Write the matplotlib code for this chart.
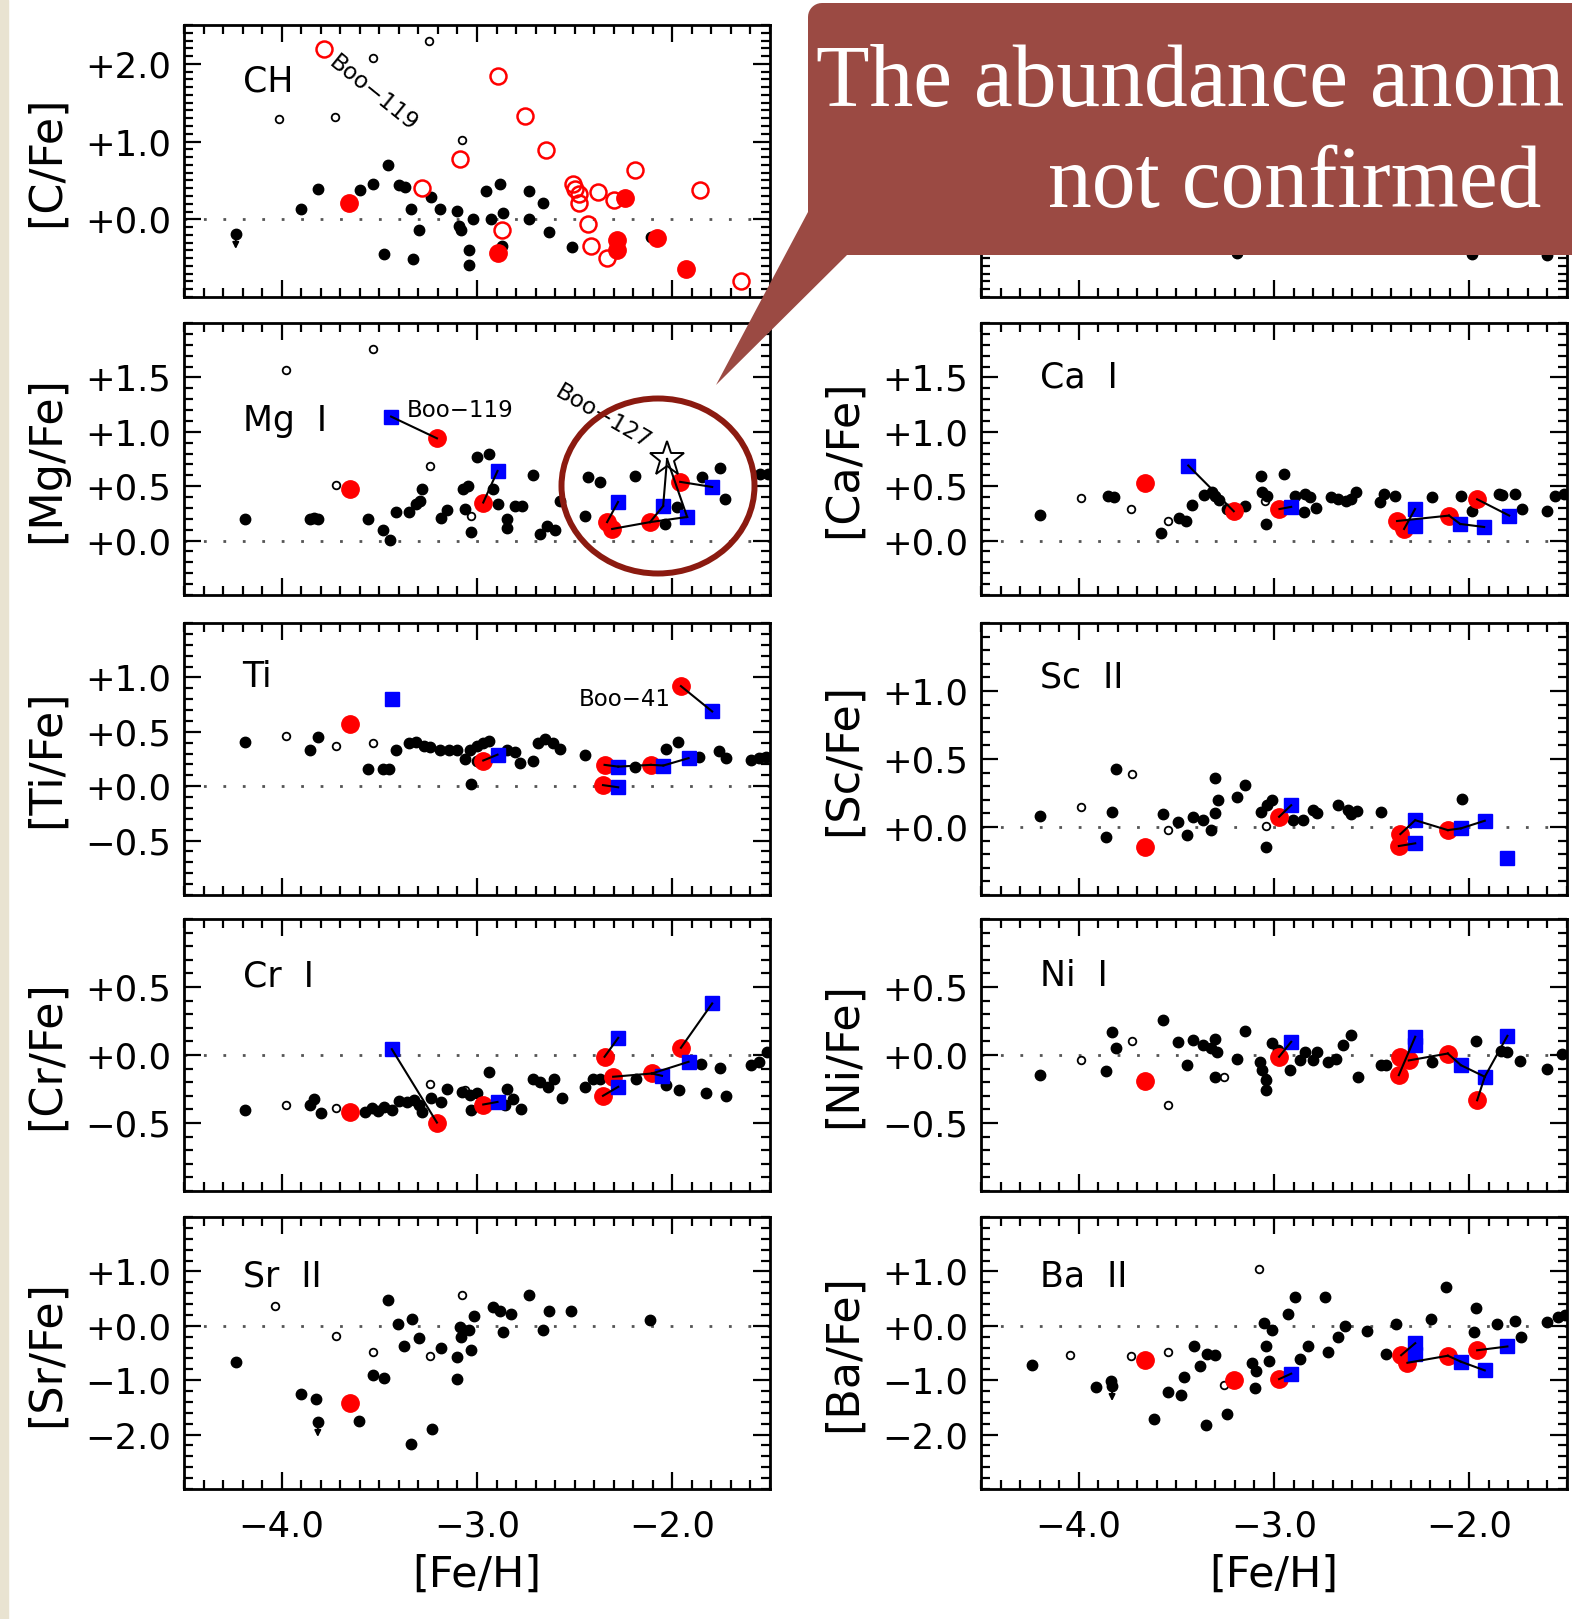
import numpy as np
import matplotlib
matplotlib.use("Agg")
import matplotlib.pyplot as plt
from matplotlib.patches import Ellipse, Polygon, Rectangle
from matplotlib.ticker import FixedLocator, MultipleLocator, FuncFormatter

# [X/Fe] vs [Fe/H]; halo comparison stars (black), Bootes I stars (red / blue)

# ---- CH ----
CH_HALO = [(-3.90, 0.13), (-3.815, 0.39), (-3.60, 0.38), (-3.53, 0.46), (-3.455, 0.70),
           (-3.40, 0.44), (-3.37, 0.41), (-3.34, 0.13), (-3.295, -0.14), (-3.235, 0.29),
           (-3.19, 0.13), (-3.10, 0.11), (-3.09, -0.08), (-3.08, -0.14), (-3.02, 0.0),
           (-2.955, 0.36), (-2.93, 0.0), (-2.88, 0.45), (-2.865, 0.08), (-2.87, -0.34),
           (-2.735, 0.37), (-2.735, 0.0), (-2.66, 0.21), (-2.63, -0.16), (-3.475, -0.45),
           (-3.33, -0.51), (-3.04, -0.39), (-3.04, -0.59), (-2.515, -0.36), (-2.11, -0.23)]
CH_LIMITS = [(-4.235, -0.19)]
CH_OPEN = [(-4.016, 1.29), (-3.725, 1.32), (-3.534, 2.07), (-3.246, 2.30), (-3.076, 1.02)]
CH_RED = [(-3.655, 0.21), (-2.895, -0.44), (-2.244, 0.28), (-2.285, -0.27), (-2.285, -0.40),
          (-2.08, -0.24), (-1.93, -0.64)]
CH_RED_OPEN = [(-3.784, 2.19), (-2.895, 1.85), (-2.754, 1.33), (-2.646, 0.89), (-3.089, 0.78),
               (-3.282, 0.40), (-2.87, -0.14), (-2.51, 0.45), (-2.497, 0.39), (-2.476, 0.33),
               (-2.476, 0.21), (-2.432, -0.06), (-2.38, 0.35), (-2.30, 0.25), (-2.414, -0.35),
               (-2.337, -0.50), (-2.19, 0.63), (-1.858, 0.38), (-1.646, -0.79)]

# ---- Mg I ----
MG_HALO = [(-4.19, 0.20), (-3.856, 0.20), (-3.835, 0.21), (-3.815, 0.20), (-3.56, 0.20),
           (-3.483, 0.10), (-3.444, 0.01), (-3.416, 0.26), (-3.35, 0.26), (-3.31, 0.34),
           (-3.29, 0.36), (-3.28, 0.47), (-3.186, 0.21), (-3.153, 0.28), (-3.07, 0.47),
           (-3.045, 0.50), (-3.063, 0.29), (-3.03, 0.08), (-2.998, 0.77), (-2.94, 0.80),
           (-2.92, 0.47), (-2.895, 0.34), (-2.844, 0.20), (-2.844, 0.12), (-2.805, 0.32),
           (-2.77, 0.32), (-2.715, 0.60), (-2.677, 0.06), (-2.643, 0.13), (-2.60, 0.10),
           (-2.575, 0.36), (-2.43, 0.58), (-2.37, 0.54), (-2.19, 0.59), (-2.447, 0.23),
           (-2.037, 0.15), (-1.975, 0.31), (-1.848, 0.58), (-1.756, 0.67), (-1.73, 0.38),
           (-1.55, 0.61), (-1.51, 0.61)]
MG_OPEN = [(-3.98, 1.57), (-3.534, 1.76), (-3.72, 0.51), (-3.243, 0.69), (-3.03, 0.23)]
MG_RED = [(-3.65, 0.47), (-3.205, 0.94), (-2.968, 0.35), (-2.334, 0.17), (-2.308, 0.107),
          (-2.114, 0.17), (-1.96, 0.54)]
MG_BLUE = [(-3.44, 1.14), (-2.895, 0.64), (-2.278, 0.355), (-2.047, 0.318), (-1.924, 0.217),
           (-1.796, 0.493)]
MG_STAR = (-2.027, 0.75)
MG_LINKS = [('b0', 'r1'), ('b1', 'r2'), ('r3', 'b2'), ('r4', 'r5'), ('r5', 'b3'),
            ('b3', 's'), ('s', 'b4'), ('r5', 'b4'), ('r6', 'b5')]

# ---- Ca I ----
CA_HALO = [(-4.198, 0.236), (-3.848, 0.41), (-3.819, 0.40), (-3.576, 0.07), (-3.486, 0.21),
           (-3.449, 0.18), (-3.42, 0.33), (-3.357, 0.42), (-3.318, 0.45), (-3.30, 0.41),
           (-3.28, 0.37), (-3.241, 0.29), (-3.15, 0.32), (-3.068, 0.595), (-2.949, 0.61),
           (-3.06, 0.45), (-3.034, 0.41), (-3.041, 0.157), (-2.892, 0.41), (-2.84, 0.43),
           (-2.814, 0.40), (-2.846, 0.26), (-2.784, 0.30), (-2.71, 0.40), (-2.671, 0.38),
           (-2.632, 0.365), (-2.607, 0.38), (-2.581, 0.45), (-2.437, 0.43), (-2.457, 0.355),
           (-2.38, 0.41), (-2.19, 0.40), (-2.042, 0.41), (-1.986, 0.27), (-1.848, 0.43),
           (-1.832, 0.42), (-1.766, 0.43), (-1.73, 0.29), (-1.602, 0.27), (-1.561, 0.41),
           (-1.515, 0.43)]
CA_OPEN = [(-3.99, 0.39), (-3.731, 0.295), (-3.543, 0.18), (-3.046, 0.36)]
CA_RED = [(-3.659, 0.53), (-3.206, 0.27), (-2.972, 0.29), (-2.37, 0.18), (-2.334, 0.107),
          (-2.104, 0.23), (-1.96, 0.38)]
CA_BLUE = [(-3.439, 0.69), (-2.912, 0.31), (-2.278, 0.29), (-2.278, 0.13), (-2.047, 0.153),
           (-1.924, 0.125), (-1.796, 0.23)]
CA_LINKS = [('b0', 'r1'), ('r2', 'b1'), ('r4', 'b2'), ('r3', 'r5'), ('r5', 'b4'),
            ('b4', 'b5'), ('r6', 'b6')]

# ---- Ti ----
TI_HALO = [(-4.19, 0.405), (-3.856, 0.335), (-3.815, 0.45), (-3.56, 0.16), (-3.483, 0.16),
           (-3.45, 0.16), (-3.416, 0.33), (-3.35, 0.40), (-3.31, 0.41), (-3.27, 0.37),
           (-3.24, 0.36), (-3.19, 0.335), (-3.145, 0.335), (-3.10, 0.335), (-3.037, 0.335),
           (-2.998, 0.365), (-2.97, 0.40), (-2.94, 0.42), (-3.063, 0.25), (-3.0, 0.23),
           (-3.03, 0.02), (-2.844, 0.335), (-2.805, 0.31), (-2.78, 0.21), (-2.715, 0.235),
           (-2.69, 0.40), (-2.65, 0.43), (-2.61, 0.40), (-2.574, 0.34), (-2.445, 0.29),
           (-2.19, 0.18), (-2.03, 0.34), (-1.97, 0.41), (-1.865, 0.27), (-1.76, 0.32),
           (-1.724, 0.26), (-1.595, 0.24), (-1.556, 0.26), (-1.518, 0.27)]
TI_OPEN = [(-3.98, 0.457), (-3.72, 0.365), (-3.534, 0.40)]
TI_RED = [(-3.65, 0.57), (-2.968, 0.236), (-2.347, 0.196), (-2.355, 0.01), (-2.11, 0.196),
          (-1.956, 0.92)]
TI_BLUE = [(-3.436, 0.80), (-2.895, 0.29), (-2.277, 0.18), (-2.277, -0.01), (-2.046, 0.19),
           (-1.917, 0.258), (-1.796, 0.687)]
TI_LINKS = [('r1', 'b1'), ('r2', 'b2'), ('r3', 'b3'), ('b2', 'r4'), ('r4', 'b4'),
            ('b4', 'b5'), ('r5', 'b6')]

# ---- Sc II ----
SC_HALO = [(-4.198, 0.083), (-3.862, -0.076), (-3.829, 0.112), (-3.809, 0.43), (-3.569, 0.095),
           (-3.492, 0.04), (-3.447, -0.06), (-3.414, 0.07), (-3.362, 0.05), (-3.323, -0.02),
           (-3.30, 0.105), (-3.288, 0.198), (-3.30, 0.36), (-3.189, 0.22), (-3.15, 0.308),
           (-3.068, 0.112), (-3.034, 0.16), (-3.008, 0.198), (-3.04, -0.145), (-2.904, 0.05),
           (-2.853, 0.05), (-2.801, 0.124), (-2.781, 0.105), (-2.671, 0.16), (-2.62, 0.124),
           (-2.576, 0.12), (-2.607, 0.095), (-2.452, 0.112), (-2.038, 0.203)]
SC_OPEN = [(-3.99, 0.149), (-3.727, 0.393), (-3.543, -0.02), (-3.04, 0.01)]
SC_RED = [(-3.659, -0.15), (-2.974, 0.075), (-2.353, -0.052), (-2.361, -0.14), (-2.11, -0.023)]
SC_BLUE = [(-2.912, 0.16), (-2.277, 0.05), (-2.277, -0.12), (-2.043, -0.01), (-1.921, 0.046),
           (-1.805, -0.23)]
SC_LINKS = [('r1', 'b0'), ('r2', 'b1'), ('r3', 'b2'), ('b1', 'r4'), ('r4', 'b3'), ('b3', 'b4')]

# ---- Cr I ----
CR_HALO = [(-4.19, -0.406), (-3.856, -0.37), (-3.836, -0.32), (-3.80, -0.43), (-3.573, -0.418),
           (-3.54, -0.39), (-3.506, -0.41), (-3.475, -0.38), (-3.436, -0.406), (-3.398, -0.34),
           (-3.36, -0.345), (-3.32, -0.333), (-3.295, -0.37), (-3.282, -0.42), (-3.238, -0.317),
           (-3.184, -0.345), (-3.153, -0.247), (-3.076, -0.27), (-3.037, -0.296), (-2.998, -0.283),
           (-3.032, -0.406), (-2.94, -0.124), (-2.844, -0.247), (-2.818, -0.32), (-2.774, -0.40),
           (-2.857, -0.37), (-2.715, -0.173), (-2.677, -0.20), (-2.638, -0.234), (-2.605, -0.173),
           (-2.566, -0.315), (-2.445, -0.234), (-2.407, -0.178), (-2.368, -0.173), (-2.187, -0.178),
           (-2.033, -0.22), (-1.968, -0.26), (-1.853, -0.063), (-1.755, -0.095), (-1.827, -0.283),
           (-1.724, -0.30), (-1.595, -0.075), (-1.556, -0.05), (-1.513, 0.023)]
CR_OPEN = [(-3.98, -0.364), (-3.72, -0.39), (-3.243, -0.21), (-3.06, -0.26)]
CR_RED = [(-3.65, -0.418), (-3.205, -0.497), (-2.968, -0.364), (-2.347, -0.013), (-2.303, -0.16),
          (-2.355, -0.30), (-2.105, -0.136), (-1.956, 0.053)]
CR_BLUE = [(-3.436, 0.043), (-2.895, -0.345), (-2.277, 0.126), (-2.277, -0.234), (-2.053, -0.153),
           (-1.917, -0.05), (-1.796, 0.379)]
CR_LINKS = [('b0', 'r1'), ('r2', 'b1'), ('r3', 'b2'), ('r5', 'b3'), ('r4', 'r6'),
            ('r6', 'b4'), ('r6', 'b5'), ('r7', 'b6')]

# ---- Ni I ----
NI_HALO = [(-4.198, -0.144), (-3.862, -0.117), (-3.829, 0.166), (-3.809, 0.053), (-3.569, 0.256),
           (-3.492, 0.092), (-3.447, -0.075), (-3.414, 0.109), (-3.362, 0.072), (-3.323, 0.048),
           (-3.30, 0.121), (-3.293, 0.023), (-3.30, -0.16), (-3.189, -0.026), (-3.15, 0.175),
           (-3.073, -0.05), (-3.06, -0.11), (-3.04, -0.185), (-3.04, -0.26), (-3.008, 0.085),
           (-2.982, 0.036), (-2.918, -0.11), (-2.865, -0.04), (-2.84, 0.023), (-2.801, -0.04),
           (-2.781, 0.023), (-2.723, -0.05), (-2.684, -0.026), (-2.646, 0.077), (-2.607, 0.15),
           (-2.568, -0.16), (-2.452, -0.075), (-2.427, -0.07), (-2.189, -0.05), (-1.966, 0.10),
           (-1.837, 0.028), (-1.805, 0.023), (-1.741, -0.045), (-1.60, -0.105), (-1.526, 0.004)]
NI_OPEN = [(-3.99, -0.038), (-3.727, 0.10), (-3.543, -0.364), (-3.254, -0.16), (-3.04, -0.168)]
NI_RED = [(-3.659, -0.19), (-2.974, -0.013), (-2.353, -0.013), (-2.31, -0.04), (-2.361, -0.148),
          (-2.11, 0.011), (-1.96, -0.333)]
NI_BLUE = [(-2.912, 0.097), (-2.277, 0.134), (-2.277, 0.072), (-2.043, -0.075), (-1.921, -0.16),
           (-1.805, 0.141)]
NI_LINKS = [('r1', 'b0'), ('r4', 'b1'), ('r3', 'r5'), ('r5', 'b3'), ('b3', 'b4'),
            ('b4', 'r6'), ('b4', 'b5')]

# ---- Sr II ----
SR_HALO = [(-4.235, -0.67), (-3.90, -1.25), (-3.823, -1.35), (-3.604, -1.75), (-3.455, 0.47),
           (-3.532, -0.90), (-3.475, -0.96), (-3.403, 0.04), (-3.333, 0.13), (-3.372, -0.38),
           (-3.295, -0.22), (-3.34, -2.18), (-3.23, -1.90), (-3.186, -0.41), (-3.10, -0.57),
           (-3.10, -0.97), (-3.089, -0.02), (-3.08, -0.20), (-3.07, -0.08), (-3.042, -0.08),
           (-3.032, -0.45), (-3.017, 0.18), (-2.92, 0.35), (-2.883, 0.27), (-2.826, 0.21),
           (-2.865, -0.11), (-2.736, 0.57), (-2.664, -0.07), (-2.633, 0.28), (-2.517, 0.28),
           (-2.115, 0.10)]
SR_LIMITS = [(-3.815, -1.77)]
SR_OPEN = [(-4.034, 0.36), (-3.72, -0.19), (-3.534, -0.476), (-3.243, -0.55), (-3.076, 0.57)]
SR_RED = [(-3.65, -1.42)]

# ---- Ba II ----
BA_HALO = [(-4.237, -0.72), (-3.913, -1.13), (-3.835, -1.02), (-3.615, -1.72), (-3.543, -1.22),
           (-3.478, -1.28), (-3.459, -0.94), (-3.41, -0.38), (-3.381, -0.73), (-3.349, -1.83),
           (-3.344, -0.52), (-3.30, -0.54), (-3.241, -1.63), (-3.111, -0.69), (-3.093, -0.84),
           (-3.099, -1.14), (-3.05, 0.05), (-3.008, -0.08), (-3.04, -0.38), (-3.026, -0.65),
           (-2.93, 0.22), (-2.892, 0.53), (-2.865, -0.61), (-2.826, -0.38), (-2.723, -0.48),
           (-2.737, 0.53), (-2.671, -0.20), (-2.639, -0.01), (-2.525, -0.10), (-2.426, -0.52),
           (-2.375, 0.04), (-2.194, 0.13), (-2.121, 0.72), (-1.966, 0.32), (-1.974, -0.11),
           (-1.857, 0.03), (-1.766, 0.09), (-1.733, -0.20), (-1.60, 0.07), (-1.547, 0.16),
           (-1.508, 0.19)]
BA_LIMITS = [(-3.829, -1.11)]
BA_OPEN = [(-4.043, -0.54), (-3.731, -0.55), (-3.543, -0.48), (-3.077, 1.05), (-3.254, -1.08)]
BA_RED = [(-3.659, -0.62), (-3.206, -0.99), (-2.974, -0.98), (-2.349, -0.54), (-2.317, -0.68),
          (-2.11, -0.55), (-1.96, -0.45)]
BA_BLUE = [(-2.912, -0.88), (-2.277, -0.32), (-2.277, -0.51), (-2.043, -0.66), (-1.921, -0.82),
           (-1.805, -0.38)]
BA_LINKS = [('r2', 'b0'), ('r3', 'b1'), ('r4', 'r5'), ('r5', 'b3'), ('b3', 'b4'), ('r6', 'b5')]

# panel hidden under the speech bubble, only its lower edge shows
TOP_RIGHT_HALO = [(-3.19, -0.43), (-1.986, -0.45), (-1.60, -0.46)]

CALLOUT_LINES = ["The abundance anom", "not confirmed"]

# ---------------------------------------------------------------
W, H = 1572, 1619
COL_X = (184, 981)
ROW_TOP = (25, 323, 623, 919, 1217)
AX_W, AX_H = 586, 272
RED = '#ff0000'
BLUE = '#0000ff'
plt.rcParams['font.family'] = 'DejaVu Sans'

fig = plt.figure(figsize=(W / 100, H / 100), dpi=100)


def fx(px):
    return px / W


def fy(py):
    return 1 - py / H


def yfmt(v, pos):
    s = '%+.1f' % v
    if s == '-0.0':
        s = '+0.0'
    return s.replace('-', '\u2212')


def xfmt(v, pos):
    return ('%.1f' % v).replace('-', '\u2212')


def make_axes(col, row, ylim, yticks, yminor, ylabel=None, show_labels=True):
    ax = fig.add_axes([fx(COL_X[col]), fy(ROW_TOP[row] + AX_H), AX_W / W, AX_H / H])
    ax.set_xlim(-4.5, -1.5)
    ax.set_ylim(*ylim)
    ax.axhline(0, color='#555555', lw=2, ls=(0, (1, 6)), zorder=1)
    ax.xaxis.set_major_locator(MultipleLocator(1.0))
    ax.xaxis.set_minor_locator(MultipleLocator(0.1))
    ax.yaxis.set_major_locator(FixedLocator(yticks))
    ax.yaxis.set_minor_locator(MultipleLocator(yminor))
    ax.yaxis.set_major_formatter(FuncFormatter(yfmt))
    ax.xaxis.set_major_formatter(FuncFormatter(xfmt))
    ax.tick_params(which='both', direction='in', top=True, right=True, width=1.6,
                   labelsize=25.5)
    ax.tick_params(which='major', length=12)
    ax.tick_params(which='minor', length=6.5)
    ax.tick_params(axis='y', pad=9, labelleft=show_labels)
    ax.tick_params(axis='x', pad=15, labelbottom=(row == 4))
    for sp in ax.spines.values():
        sp.set_linewidth(2)
    if ylabel:
        ax.set_ylabel(ylabel, fontsize=32, va='center', ha='center')
        ax.yaxis.set_label_coords(-0.235, 0.5)
    if row == 4:
        ax.set_xlabel('[Fe/H]', fontsize=31, va='center', ha='center')
        ax.xaxis.set_label_coords(0.5, -86 / AX_H)
    return ax


def xy(pts):
    return [p[0] for p in pts], [p[1] for p in pts]


def draw(ax, halo, opn, red=(), blue=(), links=(), star=None, red_open=(), limits=()):
    if halo:
        ax.plot(*xy(halo), 'o', color='k', ms=7.5, ls='none', zorder=3)
    if opn:
        ax.plot(*xy(opn), 'o', mfc='none', mec='k', ms=5.5, mew=1.3, ls='none', zorder=3)
    if red_open:
        ax.plot(*xy(red_open), 'o', mfc='none', mec=RED, ms=11.5, mew=1.8, ls='none', zorder=4)
    for x, y in limits:
        ax.plot(x, y, 'o', color='k', ms=7.5, zorder=3)
        span = ax.get_ylim()[1] - ax.get_ylim()[0]
        ax.annotate('', xy=(x, y - 0.065 * span), xytext=(x, y),
                    arrowprops=dict(arrowstyle='-|>', color='k', lw=1.4, mutation_scale=9),
                    zorder=3)
    if red:
        ax.plot(*xy(red), 'o', color=RED, ms=12.5, ls='none', zorder=4)
    if blue:
        ax.plot(*xy(blue), 's', color=BLUE, ms=10.5, ls='none', zorder=4)
    if star is not None:
        ax.plot(*star, '*', mfc='white', mec='k', ms=26, mew=1.4, zorder=5)

    def pick(code):
        if code == 's':
            return star
        return (red if code[0] == 'r' else blue)[int(code[1:])]

    for a, b in links:
        pa, pb = pick(a), pick(b)
        ax.plot([pa[0], pb[0]], [pa[1], pb[1]], color='k', lw=1.5, zorder=6)


def tag(ax, text, yfrac):
    ax.text(0.10, yfrac, text, transform=ax.transAxes, fontsize=25, va='center', ha='left')


# row 1
ax = make_axes(0, 0, (-1.0, 2.5), [0, 1, 2], 0.1, '[C/Fe]')
draw(ax, CH_HALO, CH_OPEN, CH_RED, red_open=CH_RED_OPEN, limits=CH_LIMITS)
tag(ax, 'CH', 0.794)
ax.text(-3.53, 1.62, 'Boo\u2212119', rotation=-39, fontsize=16.5, ha='center', va='center',
        rotation_mode='anchor')

ax = make_axes(1, 0, (-1.0, 2.5), [0, 1, 2], 0.1, None, show_labels=False)
draw(ax, TOP_RIGHT_HALO, [])

# row 2
ax = make_axes(0, 1, (-0.5, 2.0), [0, 0.5, 1.0, 1.5], 0.1, '[Mg/Fe]')
draw(ax, MG_HALO, MG_OPEN, MG_RED, MG_BLUE, MG_LINKS, star=MG_STAR)
tag(ax, 'Mg  I', 0.638)
ax.text(-3.36, 1.20, 'Boo\u2212119', fontsize=16.5, ha='left', va='center')
ax.text(-2.355, 1.136, 'Boo\u2212127', rotation=-30, fontsize=16.5, ha='center', va='center',
        rotation_mode='anchor')

ax = make_axes(1, 1, (-0.5, 2.0), [0, 0.5, 1.0, 1.5], 0.1, '[Ca/Fe]')
draw(ax, CA_HALO, CA_OPEN, CA_RED, CA_BLUE, CA_LINKS)
tag(ax, 'Ca  I', 0.798)

# row 3
ax = make_axes(0, 2, (-1.0, 1.5), [-0.5, 0, 0.5, 1.0], 0.1, '[Ti/Fe]')
draw(ax, TI_HALO, TI_OPEN, TI_RED, TI_BLUE, TI_LINKS)
tag(ax, 'Ti', 0.80)
ax.text(-2.48, 0.80, 'Boo\u221241', fontsize=16.5, ha='left', va='center')

ax = make_axes(1, 2, (-0.5, 1.5), [0, 0.5, 1.0], 0.1, '[Sc/Fe]')
draw(ax, SC_HALO, SC_OPEN, SC_RED, SC_BLUE, SC_LINKS)
tag(ax, 'Sc  II', 0.80)

# row 4
ax = make_axes(0, 3, (-1.0, 1.0), [-0.5, 0, 0.5], 0.1, '[Cr/Fe]')
draw(ax, CR_HALO, CR_OPEN, CR_RED, CR_BLUE, CR_LINKS)
tag(ax, 'Cr  I', 0.79)

ax = make_axes(1, 3, (-1.0, 1.0), [-0.5, 0, 0.5], 0.1, '[Ni/Fe]')
draw(ax, NI_HALO, NI_OPEN, NI_RED, NI_BLUE, NI_LINKS)
tag(ax, 'Ni  I', 0.79)

# row 5
ax = make_axes(0, 4, (-3.0, 2.0), [-2, -1, 0, 1], 0.2, '[Sr/Fe]')
draw(ax, SR_HALO, SR_OPEN, SR_RED, limits=SR_LIMITS)
tag(ax, 'Sr  II', 0.783)

ax = make_axes(1, 4, (-3.0, 2.0), [-2, -1, 0, 1], 0.2, '[Ba/Fe]')
draw(ax, BA_HALO, BA_OPEN, BA_RED, BA_BLUE, BA_LINKS, limits=BA_LIMITS)
tag(ax, 'Ba  II', 0.783)

# slide decorations: side strip, highlight ring, speech bubble
fig.add_artist(Rectangle((0, 0), fx(8), 1, transform=fig.transFigure,
                         color='#e9e3d1', zorder=0))

fig.add_artist(Ellipse((fx(658), fy(486)), 193 / W, 175 / H, transform=fig.transFigure,
                       fill=False, ec='#8b1a10', lw=4.3, zorder=20))

r = 14
corner = [(808 + r - r * np.cos(t), 3 + r - r * np.sin(t)) for t in np.linspace(0, np.pi / 2, 10)]
bubble = [(808, 212)] + corner + [(1600, 3), (1600, 255), (847, 255), (716, 385)]
fig.add_artist(Polygon([(fx(x), fy(y)) for x, y in bubble], closed=True,
                       transform=fig.transFigure, fc='#9b4a43', ec='none', zorder=10))

fig.text(fx(816), fy(106), CALLOUT_LINES[0], color='white', fontsize=63,
         family='Liberation Serif', va='baseline', ha='left', zorder=11)
fig.text(fx(1048), fy(207), CALLOUT_LINES[1], color='white', fontsize=63,
         family='Liberation Serif', va='baseline', ha='left', zorder=11)

fig.savefig('out.png', dpi=100)
